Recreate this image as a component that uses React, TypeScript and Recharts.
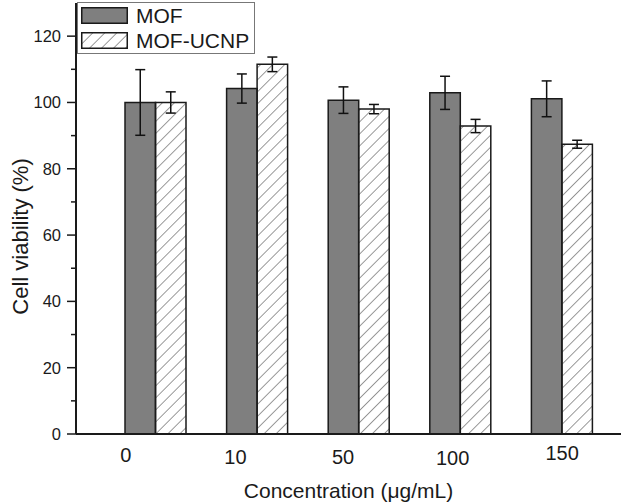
import React from 'react';
import { BarChart, Bar, XAxis, YAxis, ErrorBar } from 'recharts';

const concentrations = ['0', '10', '50', '100', '150'];
const mofViability = [100, 104.2, 100.7, 102.9, 101.1];
const mofError = [9.9, 4.4, 4.0, 5.0, 5.4];
const ucnpViability = [100, 111.5, 98.0, 92.9, 87.4];
const ucnpError = [3.2, 2.2, 1.4, 2.0, 1.2];
const seriesNames = ['MOF', 'MOF-UCNP'];
const yTicks = [0, 10, 20, 30, 40, 50, 60, 70, 80, 90, 100, 110, 120];

const rows = concentrations.map((c, i) => ({
  conc: c,
  mof: mofViability[i],
  mofErr: mofError[i],
  ucnp: ucnpViability[i],
  ucnpErr: ucnpError[i],
}));

const FONT = '"Liberation Sans", Arial, sans-serif';
const INK = '#1a1a1a';
const DARK = '#7f7f7f';

// the x labels in the original sit a little off the group centres
const xLabelShift = [[-30, 21], [-22, 23], [-16, 23], [-8, 24], [0, 19]];

const XTick = (props: any) => {
  const { x, y, payload, index } = props;
  const [dx, dy] = xLabelShift[index] || [0, 21];
  return (
    <text x={x + dx} y={y + dy} textAnchor="middle" dominantBaseline="central"
      fontSize={20} fontFamily={FONT} fill={INK}>
      {payload.value}
    </text>
  );
};

const YTick = (props: any) => {
  const { x, y, payload } = props;
  const major = payload.value % 20 === 0;
  return (
    <g>
      <line x1={x - (major ? 9 : 5)} y1={y} x2={x} y2={y} stroke={INK} strokeWidth={1.5} />
      {major && (
        <text x={x - 15} y={y} textAnchor="end" dominantBaseline="central"
          fontSize={16.5} fontFamily={FONT} fill={INK}>
          {payload.value}
        </text>
      )}
    </g>
  );
};

const YTitle = (props: any) => {
  const vb = props.viewBox || {};
  const cy = (vb.y || 0) + (vb.height || 0) / 2 + 18;
  return (
    <text x={20} y={cy} transform={`rotate(-90, 20, ${cy})`} textAnchor="middle" dominantBaseline="central"
      fontSize={22} fontFamily={FONT} fill={INK}>
      Cell viability (%)
    </text>
  );
};

const Swatch = ({ hatched }: { hatched: boolean }) => (
  <svg width={47} height={17} style={{ display: 'block' }}>
    <defs>
      <pattern id="hatchLegend" width="8.5" height="8.5" patternUnits="userSpaceOnUse" patternTransform="rotate(45)">
        <line x1="0" y1="0" x2="0" y2="8.5" stroke="#333" strokeWidth="1" />
      </pattern>
    </defs>
    <rect x={0.75} y={0.75} width={45.5} height={15.5}
      fill={hatched ? 'url(#hatchLegend)' : DARK} stroke={INK} strokeWidth={1.5} />
  </svg>
);

const LegendBox = () => (
  <div style={{
    position: 'absolute', left: 77, top: 2, width: 178, height: 52, boxSizing: 'border-box',
    border: '1px solid #777', background: '#fff', fontFamily: FONT, fontSize: 21, color: INK,
  }}>
    {seriesNames.map((name, i) => (
      <div key={name} style={{ position: 'absolute', left: 3, top: 4 + i * 25, display: 'flex', alignItems: 'center', height: 17 }}>
        <Swatch hatched={i === 1} />
        <span style={{ marginLeft: 8, lineHeight: '17px' }}>{name}</span>
      </div>
    ))}
  </div>
);

export default function App() {
  return (
    <div style={{ position: 'absolute', left: 0, top: 0, width: 625, height: 504, background: '#fff', fontFamily: FONT }}>
      <BarChart width={625} height={504} data={rows} margin={{ top: 3, right: 4, bottom: 0, left: 0 }}
        barGap={0} barSize={30.5}>
        <defs>
          <pattern id="hatch" width="8.5" height="8.5" patternUnits="userSpaceOnUse" patternTransform="rotate(45)">
            <line x1="0" y1="0" x2="0" y2="8.5" stroke="#333" strokeWidth="1" />
          </pattern>
        </defs>
        <XAxis dataKey="conc" height={70} padding={{ left: 29, right: 8 }} interval={0}
          tickLine={false} tickSize={0} tickMargin={0} tick={<XTick />}
          axisLine={{ stroke: INK, strokeWidth: 2 }}
          label={{ value: 'Concentration (μg/mL)', position: 'insideBottom', offset: 6, fontSize: 21, fontFamily: FONT, fill: INK }} />
        <XAxis xAxisId="top" orientation="top" dataKey="conc" height={0} tick={false} tickLine={false}
          axisLine={{ stroke: INK, strokeWidth: 2 }} />
        <YAxis width={76} domain={[0, 130]} ticks={yTicks} interval={0} allowDataOverflow
          tickLine={false} tickSize={0} tickMargin={0} tick={<YTick />}
          axisLine={{ stroke: INK, strokeWidth: 2 }}
          label={{ content: <YTitle /> }} />
        <YAxis yAxisId="right" orientation="right" width={0} domain={[0, 130]} tick={false} tickLine={false}
          axisLine={{ stroke: INK, strokeWidth: 2 }} />
        <Bar dataKey="mof" name={seriesNames[0]} fill={DARK} stroke={INK} strokeWidth={1.5} isAnimationActive={false}>
          <ErrorBar dataKey="mofErr" direction="y" width={5} stroke="#111" strokeWidth={1.5} />
        </Bar>
        <Bar dataKey="ucnp" name={seriesNames[1]} fill="url(#hatch)" stroke={INK} strokeWidth={1.5} isAnimationActive={false}>
          <ErrorBar dataKey="ucnpErr" direction="y" width={5} stroke="#111" strokeWidth={1.5} />
        </Bar>
      </BarChart>
      <LegendBox />
    </div>
  );
}
